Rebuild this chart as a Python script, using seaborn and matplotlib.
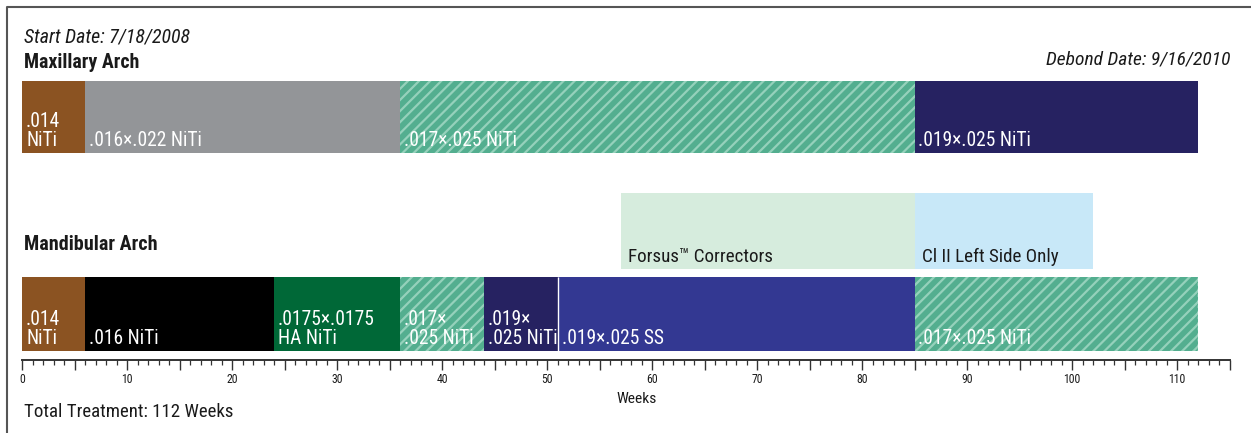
import matplotlib
matplotlib.use("Agg")
import matplotlib.pyplot as plt
from matplotlib import font_manager
from matplotlib.font_manager import FontProperties
from matplotlib.lines import Line2D
from matplotlib.ticker import MultipleLocator, FuncFormatter
import pandas as pd
import seaborn as sns

# ---- archwire sequence (weeks from bonding) ----
max_labels = [".014\nNiTi", ".016×.022 NiTi", ".017×.025 NiTi", ".019×.025 NiTi"]
max_start = [0, 6, 36, 85]
max_end = [6, 36, 85, 112]
max_colors = ["#8B5322", "#939598", "#53AE8F", "#262261"]
max_hatched = [False, False, True, False]

mand_labels = [".014\nNiTi", ".016 NiTi", ".0175×.0175\nHA NiTi", ".017×\n.025 NiTi",
               ".019×\n.025 NiTi", ".019×.025 SS", ".017×.025 NiTi"]
mand_start = [0, 6, 24, 36, 44, 51, 85]
mand_end = [6, 24, 36, 44, 51, 85, 112]
mand_colors = ["#8B5322", "#000000", "#006837", "#53AE8F", "#262261", "#333892", "#53AE8F"]
mand_hatched = [False, False, False, True, False, False, True]

# auxiliaries worn during the mandibular sequence
aux_labels = ["Forsus™ Correctors", "Cl II Left Side Only"]
aux_start = [57, 85]
aux_end = [85, 102]
aux_colors = ["#D6ECDD", "#C8E8F8"]

start_date = "7/18/2008"
debond_date = "9/16/2010"
total_weeks = 112
axis_max = 115

HATCH_LIGHT = "#95D1BB"
INK = "#1a1a1a"

rows = pd.concat([
    pd.DataFrame({"row": "max", "label": max_labels, "start": max_start, "end": max_end,
                  "color": max_colors, "hatched": max_hatched}),
    pd.DataFrame({"row": "aux", "label": aux_labels, "start": aux_start, "end": aux_end,
                  "color": aux_colors, "hatched": False}),
    pd.DataFrame({"row": "mand", "label": mand_labels, "start": mand_start, "end": mand_end,
                  "color": mand_colors, "hatched": mand_hatched}),
], ignore_index=True)

# ---- style ----
sns.set_theme(style="white")
fonts = font_manager.fontManager.ttflist
names = {f.name for f in fonts}
condensed = {f.name for f in fonts if str(f.stretch) in ("condensed", "semi-condensed", "extra-condensed")}
base_font, stretch = "DejaVu Sans", "normal"
for cand in ("Liberation Sans Narrow", "Roboto Condensed", "Open Sans Condensed"):
    if cand in names:
        base_font = cand
        break
else:
    if "DejaVu Sans" in condensed:
        stretch = "condensed"
plt.rcParams["font.family"] = [base_font, "DejaVu Sans"]
plt.rcParams["font.stretch"] = stretch
plt.rcParams["hatch.linewidth"] = 1.6
plt.rcParams["axes.unicode_minus"] = False

W, H = 1251, 433
fig = plt.figure(figsize=(W / 100, H / 100), dpi=100)
fig.patch.set_facecolor("white")
renderer = fig.canvas.get_renderer()


def fit_size(s, width_px, max_size, **props):
    """Font size (pt) at which the string spans the given pixel width."""
    fp = FontProperties(family=[base_font, "DejaVu Sans"], stretch=stretch, size=10, **props)
    w, _, _ = renderer.get_text_width_height_descent(s, fp, ismath=False)
    return min(max_size, 10 * width_px / w)


# axes: x in weeks, y in a top-down layout unit (pixel rows)
ax_top, ax_bottom = 70, 360
ax = fig.add_axes([22 / W, (H - ax_bottom) / H, 1207.5 / W, (ax_bottom - ax_top) / H])
ax.set_xlim(0, axis_max)
ax.set_ylim(ax_bottom, ax_top)

row_band = {"max": (80.5, 153), "aux": (193, 268.5), "mand": (277, 351)}
bar_fs = fit_size(".016×.022 NiTi", 112, 15)
aux_fs = fit_size(aux_labels[0], 145, 15)

for _, r in rows.iterrows():
    y0, y1 = row_band[r["row"]]
    kw = dict(left=r["start"], height=y1 - y0, align="edge", linewidth=0)
    if r["hatched"]:
        ax.barh(y0, r["end"] - r["start"], color=r["color"], edgecolor=HATCH_LIGHT,
                hatch="///", **kw)
    else:
        ax.barh(y0, r["end"] - r["start"], color=r["color"], **kw)
    is_aux = r["row"] == "aux"
    ax.annotate(r["label"], xy=(r["start"], y1), xytext=(4 if is_aux is False else 7, 7),
                textcoords="offset pixels", ha="left", va="baseline",
                color=INK if is_aux else "white", fontsize=aux_fs if is_aux else bar_fs,
                linespacing=1.0)

# white divider between the two .019×.025 wires, dashed edge at the end of treatment
m_y0, m_y1 = row_band["mand"]
ax.vlines(mand_start[5], m_y0, m_y1, colors="white", linewidth=1.0)
ax.vlines(mand_end[-1], m_y0, m_y1, colors="white", linewidth=1.0, linestyles=(0, (2, 2)))

# ---- week axis ----
for s in ("top", "right", "left"):
    ax.spines[s].set_visible(False)
ax.spines["bottom"].set_color("#333333")
ax.spines["bottom"].set_linewidth(1.4)
ax.set_yticks([])
ax.xaxis.set_major_locator(MultipleLocator(5))
ax.xaxis.set_minor_locator(MultipleLocator(1))
ax.xaxis.set_major_formatter(FuncFormatter(lambda v, p: f"{int(round(v))}" if round(v) % 10 == 0 else ""))
ax.tick_params(axis="x", which="major", bottom=True, length=7.2, width=1.0, color="#333333",
               labelsize=8.5, pad=2.5, labelcolor=INK)
ax.tick_params(axis="x", which="minor", bottom=True, length=3.6, width=0.9, color="#333333")
ax.set_facecolor("none")


# ---- text ----
def px_text(x, y, s, width_px, max_size=16, **kw):
    props = {k: kw[k] for k in ("weight", "style") if k in kw}
    size = fit_size(s, width_px, max_size, **props)
    fig.text(x / W, 1 - y / H, s, fontsize=size, color=INK, **kw)


px_text(24, 37, f"Start Date: {start_date}", 166, style="italic", va="center")
px_text(24, 63, "Maxillary Arch", 115, weight="bold", va="center")
px_text(1230, 60, f"Debond Date: {debond_date}", 183, style="italic", va="center", ha="right")
px_text(24, 244, "Mandibular Arch", 133, weight="bold", va="center")
px_text(637, 399, "Weeks", 40, max_size=12, va="center", ha="center")
px_text(24, 412, f"Total Treatment: {total_weeks} Weeks", 208, va="center")

# frame lines along the left and top edges
fig.add_artist(Line2D([7 / W, 7 / W, 1.0], [0.0, 1 - 7 / H, 1 - 7 / H],
                      transform=fig.transFigure, color="#555555", linewidth=1.5))

fig.savefig("out.png", dpi=100, facecolor="white")
